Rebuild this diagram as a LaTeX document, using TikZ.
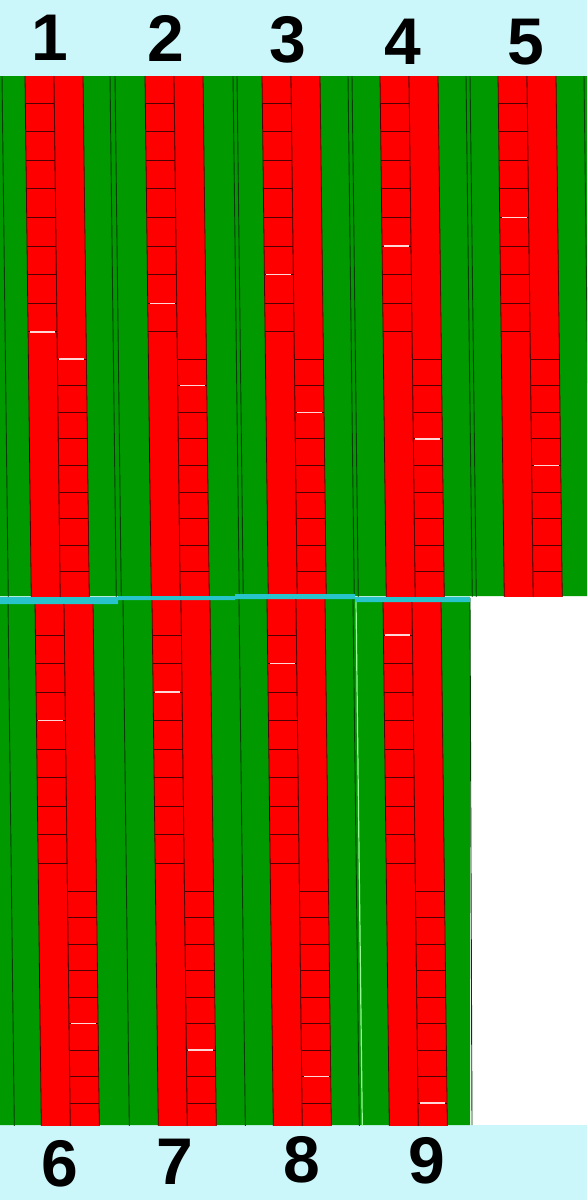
\documentclass[tikz,border=0pt]{standalone}
\usepackage{fontspec}
\setmainfont{Liberation Sans}
\definecolor{band}{RGB}{204,247,250}
\definecolor{grn}{RGB}{0,153,0}
\definecolor{rd}{RGB}{255,0,0}
\definecolor{seam}{RGB}{40,196,204}
\definecolor{edge}{RGB}{80,0,0}
\definecolor{hl}{RGB}{255,215,215}
\definecolor{gedge}{RGB}{0,60,0}
\tikzset{
  redcol/.style={fill=rd, draw=edge, line width=0.8pt},
  cellline/.style={draw=edge, line width=0.8pt},
  hiline/.style={draw=hl, line width=1.4pt},
  gapline/.style={draw=gedge, line width=0.9pt},
  lightline/.style={draw=green!40!white, line width=1.2pt},
  num/.style={font=\fontsize{66}{66}\selectfont\bfseries, text=black, inner sep=0pt},
}
\begin{document}
\begin{tikzpicture}[x=1pt,y=-1pt]
\useasboundingbox (0,0) rectangle (587,1200);
\fill[band] (0,0) rectangle (587,1200);
\fill[white] (470,594) rectangle (587,1125);

% ---------- top panel (1-5)
\begin{scope}
\clip (0,76) rectangle (587,596);
\begin{scope}[shift={(-0.9,0)}, xslant=-0.012]
\fill[grn] (-20,76) rectangle (620,596);
\foreach \R [count=\n] in {25,145,262,380,498} {
  \filldraw[redcol] (\R,70) rectangle ++(29,530);
  \filldraw[redcol] (\R+29,70) rectangle ++(29,530);
  \foreach \k in {0,...,8} {
    \draw[cellline] (\R,103+28.6*\k) -- ++(29,0);
    \draw[cellline] (\R+29,359+26.6*\k) -- ++(29,0);
  }
  \pgfmathsetmacro{\ka}{9-\n}
  \pgfmathsetmacro{\kb}{\n-1}
  \draw[hiline] (\R+2,103+28.6*\ka) -- ++(25,0);
  \draw[hiline] (\R+31,359+26.6*\kb) -- ++(25,0);
}
\foreach \g in {2,110,115,233,237,348,352,466,470,584}
  \draw[gapline] (\g,70) -- (\g,600);
\end{scope}
\end{scope}

% ---------- bottom panel (6-9)
\begin{scope}
\clip (0,598) rectangle (470,1125);
\begin{scope}[shift={(-7.2,0)}, xslant=-0.012]
\fill[grn] (-20,598) rectangle (490,1125);
\foreach \R [count=\m] in {35,152,267,383} {
  \pgfmathtruncatemacro{\n}{\m+5}
  \filldraw[redcol] (\R,590) rectangle ++(29,540);
  \filldraw[redcol] (\R+29,590) rectangle ++(29,540);
  \foreach \k in {0,...,8} {
    \draw[cellline] (\R,635+28.5*\k) -- ++(29,0);
    \draw[cellline] (\R+29,891+26.5*\k) -- ++(29,0);
  }
  \pgfmathsetmacro{\ka}{9-\n}
  \pgfmathsetmacro{\kb}{\n-1}
  \draw[hiline] (\R+2,635+28.5*\ka) -- ++(25,0);
  \draw[hiline] (\R+31,891+26.5*\kb) -- ++(25,0);
}
\foreach \g in {8,123,239,353}
  \draw[gapline] (\g,590) -- (\g,1130);
\draw[lightline] (356,590) -- (356,1130);
\end{scope}
\end{scope}
\draw[gapline] (470,598) -- (472,1125);

% ---------- seam between panels
\fill[seam] (0,597) -- (118,597) -- (118,596) -- (235,596) -- (235,594)
  -- (355,594) -- (355,597) -- (470,597) -- (470,602) -- (355,602)
  -- (355,599) -- (235,599) -- (235,600) -- (118,600) -- (118,604)
  -- (0,604) -- cycle;

% ---------- labels
\node[num] (l1) at (50,38) {1};
\node[num] (l2) at (166,38) {2};
\node[num] (l3) at (288,40) {3};
\node[num] (l4) at (403,42) {4};
\node[num] (l5) at (526,42) {5};
\node[num] (l6) at (60,1164) {6};
\node[num] (l7) at (175,1162) {7};
\node[num] (l8) at (302,1160) {8};
\node[num] (l9) at (427,1161) {9};
\end{tikzpicture}
\end{document}
